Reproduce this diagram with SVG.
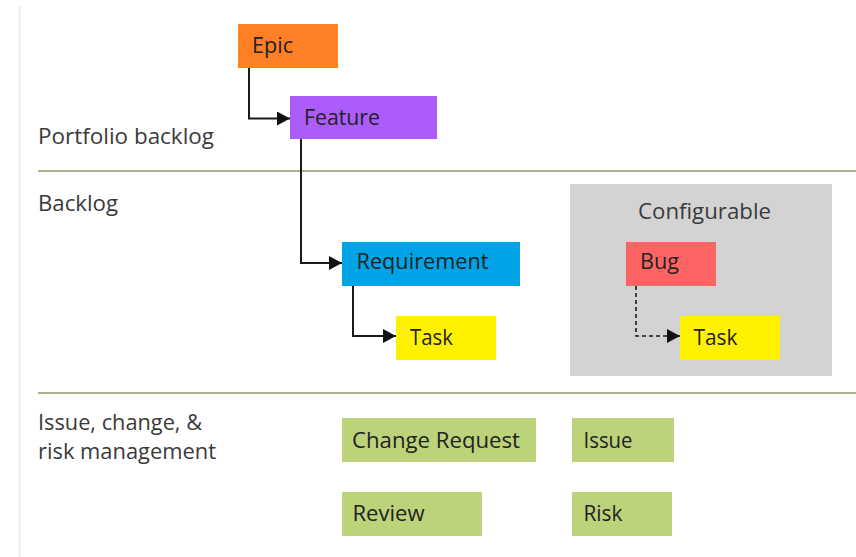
<svg xmlns="http://www.w3.org/2000/svg" width="856" height="557" viewBox="0 0 856 557">
  <style>
    .lbl { font-family: "Open Sans", "Liberation Sans", sans-serif; font-size: 21px; fill: #222222; }
    .sec { font-family: "Open Sans", "Liberation Sans", sans-serif; font-size: 21px; fill: #3a3a3a; }
    .sep { stroke: #a7b68a; stroke-width: 2; fill: none; }
    .conn { stroke: #1a1a1a; stroke-width: 2; fill: none; }
    .dash { stroke: #1a1a1a; stroke-width: 1.6; fill: none; stroke-dasharray: 4 3; }
  </style>
  <defs>
    <marker id="arrow" viewBox="0 0 13 14" refX="13" refY="7" markerWidth="13" markerHeight="14" markerUnits="userSpaceOnUse" orient="auto">
      <path d="M0,0 L13,7 L0,14 Z" fill="#111111"/>
    </marker>
  </defs>
  <rect x="0" y="0" width="856" height="557" fill="#ffffff"/>
  <line x1="19.5" y1="6" x2="19.5" y2="557" stroke="#ececec" stroke-width="2"/>

  <g id="sections">
    <line class="sep" x1="38" y1="171" x2="856" y2="171"/>
    <line class="sep" x1="38" y1="393" x2="856" y2="393"/>
    <text class="sec" x="38" y="144" textLength="176" lengthAdjust="spacingAndGlyphs">Portfolio backlog</text>
    <text class="sec" x="38" y="211" textLength="80" lengthAdjust="spacingAndGlyphs">Backlog</text>
    <text class="sec" x="38" y="430" textLength="164" lengthAdjust="spacingAndGlyphs">Issue, change, &amp;</text>
    <text class="sec" x="38" y="459" textLength="178" lengthAdjust="spacingAndGlyphs">risk management</text>
  </g>

  <g id="configurable">
    <rect x="570" y="184" width="262" height="192" fill="#d3d3d3"/>
    <text class="sec" x="638" y="219" textLength="133" lengthAdjust="spacingAndGlyphs">Configurable</text>
  </g>

  <g id="connectors">
    <path class="conn" d="M249,68 V118.5 H290" marker-end="url(#arrow)"/>
    <path class="conn" d="M301,139 V263 H342" marker-end="url(#arrow)"/>
    <path class="conn" d="M353,286 V336 H396" marker-end="url(#arrow)"/>
    <path class="dash" d="M636,286 V336 H680" marker-end="url(#arrow)"/>
  </g>

  <g id="epic">
    <rect x="238" y="24" width="100" height="44" fill="#ff7f27"/>
    <text class="lbl" x="252" y="53" textLength="41" lengthAdjust="spacingAndGlyphs">Epic</text>
  </g>
  <g id="feature">
    <rect x="290" y="96" width="147" height="43" fill="#ad5cfc"/>
    <text class="lbl" x="304" y="124.5" textLength="76" lengthAdjust="spacingAndGlyphs">Feature</text>
  </g>
  <g id="requirement">
    <rect x="342" y="242" width="178" height="44" fill="#00a3e6"/>
    <text class="lbl" x="356.5" y="269" textLength="132" lengthAdjust="spacingAndGlyphs">Requirement</text>
  </g>
  <g id="task">
    <rect x="396" y="316" width="100" height="44" fill="#fff200"/>
    <text class="lbl" x="410" y="345" textLength="43" lengthAdjust="spacingAndGlyphs">Task</text>
  </g>
  <g id="bug">
    <rect x="626" y="242" width="90" height="44" fill="#ff6464"/>
    <text class="lbl" x="640" y="269" textLength="39" lengthAdjust="spacingAndGlyphs">Bug</text>
  </g>
  <g id="bug-task">
    <rect x="680" y="316" width="100" height="44" fill="#fff200"/>
    <text class="lbl" x="693.5" y="345" textLength="44" lengthAdjust="spacingAndGlyphs">Task</text>
  </g>
  <g id="change-request">
    <rect x="342" y="418" width="194" height="44" fill="#bdd37a"/>
    <text class="lbl" x="352" y="447.5" textLength="168" lengthAdjust="spacingAndGlyphs">Change Request</text>
  </g>
  <g id="issue">
    <rect x="572" y="418" width="102" height="44" fill="#bdd37a"/>
    <text class="lbl" x="583.5" y="447.5" textLength="49" lengthAdjust="spacingAndGlyphs">Issue</text>
  </g>
  <g id="review">
    <rect x="342" y="492" width="140" height="44" fill="#bdd37a"/>
    <text class="lbl" x="352.5" y="520.5" textLength="72" lengthAdjust="spacingAndGlyphs">Review</text>
  </g>
  <g id="risk">
    <rect x="572" y="492" width="100" height="44" fill="#bdd37a"/>
    <text class="lbl" x="583.5" y="520.5" textLength="39" lengthAdjust="spacingAndGlyphs">Risk</text>
  </g>
</svg>
